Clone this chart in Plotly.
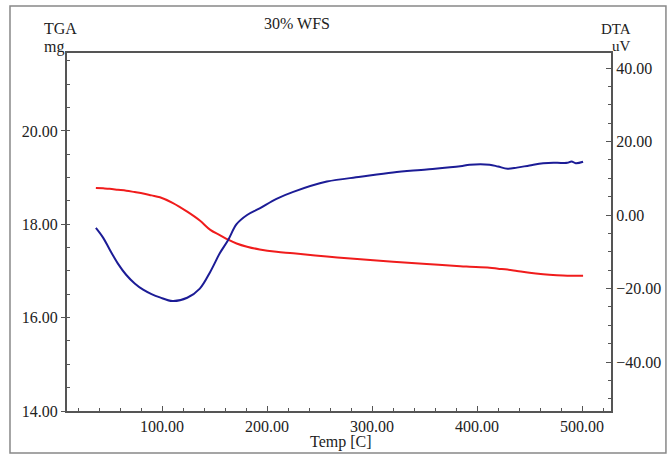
import plotly.graph_objects as go

# ---- data ----
temp = [37, 44, 50, 58, 66, 74, 82, 90, 98, 110, 124, 136, 146, 155, 163, 171, 181, 193, 209, 225,
        257, 289, 320, 352, 384, 393, 412, 420, 429, 438, 450, 463, 476, 486, 490, 494, 501]
tga_mg = [18.78, 18.77, 18.76, 18.74, 18.72, 18.69, 18.66, 18.62, 18.58, 18.46, 18.27, 18.08,
          17.88, 17.77, 17.67, 17.59, 17.52, 17.46, 17.41, 17.38, 17.31, 17.25, 17.20, 17.15,
          17.10, 17.09, 17.07, 17.05, 17.03, 17.00, 16.96, 16.93, 16.91, 16.90, 16.90, 16.90, 16.90]
dta_uv = [-3.5, -6.2, -9.3, -13.2, -16.3, -18.6, -20.3, -21.5, -22.4, -23.4, -22.5, -20.0,
          -15.4, -10.4, -6.8, -2.5, 0.0, 1.8, 4.4, 6.3, 9.1, 10.4, 11.6, 12.4, 13.3, 13.7,
          13.7, 13.2, 12.6, 12.9, 13.5, 14.1, 14.2, 14.2, 14.6, 14.1, 14.5]

title_text = "30% WFS"
x_title = "Temp [C]"
left_title = ["TGA", "mg"]
right_title = ["DTA", "uV"]

FONT = "Liberation Serif, Times New Roman, serif"
AX = "#555555"
TXT = "#222222"

fig = go.Figure()
fig.add_trace(go.Scatter(x=temp, y=tga_mg, mode="lines", name="TGA",
                         line=dict(color="#f01c1c", width=2, shape="spline", smoothing=1.0),
                         yaxis="y"))
fig.add_trace(go.Scatter(x=temp, y=dta_uv, mode="lines", name="DTA",
                         line=dict(color="#1c1c96", width=2, shape="spline", smoothing=1.0),
                         yaxis="y2"))

fig.update_layout(
    width=672, height=455,
    margin=dict(l=67, r=61, t=53, b=44),
    paper_bgcolor="white", plot_bgcolor="white",
    showlegend=False,
    font=dict(family=FONT, size=16, color=TXT),
    xaxis=dict(range=[9.5, 527.6], tick0=0, dtick=100, tickformat=".2f",
               showgrid=False, zeroline=False, showline=True, linecolor=AX, linewidth=2,
               mirror=True, ticks="inside", ticklen=5, tickcolor=AX,
               minor=dict(dtick=20, ticks="inside", ticklen=3, tickcolor=AX),
               tickfont=dict(family=FONT, size=16, color=TXT)),
    yaxis=dict(range=[14, 21.67], tick0=14, dtick=2, tickformat=".2f",
               showgrid=False, zeroline=False, showline=True, linecolor=AX, linewidth=2,
               ticks="outside", ticklen=4, tickcolor=AX,
               minor=dict(dtick=0.5, ticks="inside", ticklen=3, tickcolor=AX),
               tickfont=dict(family=FONT, size=16, color=TXT)),
    yaxis2=dict(range=[-53.3, 44.08], tick0=0, dtick=20, tickformat=".2f",
                overlaying="y", side="right",
                showgrid=False, zeroline=False, showline=True, linecolor=AX, linewidth=2,
                ticks="inside", ticklen=5, tickcolor=AX,
                minor=dict(dtick=5, ticks="inside", ticklen=3, tickcolor=AX),
                tickfont=dict(family=FONT, size=16, color=TXT)),
)

# outer frame of the picture
fig.add_shape(type="rect", xref="paper", yref="paper",
              x0=-0.1048, x1=1.101, y0=-0.117, y1=1.131,
              line=dict(color="#888888", width=1.5), layer="below")

ann = dict(xref="paper", yref="paper", showarrow=False)
fig.add_annotation(text=title_text, x=0.422, y=1.082, xanchor="center", yanchor="middle",
                   font=dict(family=FONT, size=16, color=TXT), **ann)
fig.add_annotation(text=x_title, x=0.504, y=-0.087, xanchor="center", yanchor="middle",
                   font=dict(family=FONT, size=16, color=TXT), **ann)
fig.add_annotation(text=left_title[0], x=-0.046, y=1.069, xanchor="left", yanchor="middle",
                   font=dict(family=FONT, size=16, color=TXT), **ann)
fig.add_annotation(text=left_title[1], x=-0.046, y=1.018, xanchor="left", yanchor="middle",
                   font=dict(family=FONT, size=16, color=TXT), **ann)
fig.add_annotation(text=right_title[0], x=1.04, y=1.066, xanchor="right", yanchor="middle",
                   font=dict(family=FONT, size=15, color=TXT), **ann)
fig.add_annotation(text=right_title[1], x=1.04, y=1.019, xanchor="right", yanchor="middle",
                   font=dict(family=FONT, size=15, color=TXT), **ann)

fig.write_html("out.html")
